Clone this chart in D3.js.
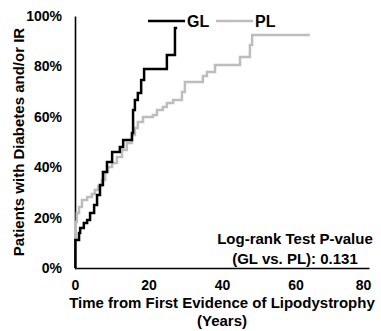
<!DOCTYPE html>
<html>
<head>
<meta charset="utf-8">
<script src="https://cdn.jsdelivr.net/npm/d3@7"></script>
<style>
  html, body { margin: 0; padding: 0; background: #fff; }
  svg text { font-family: "Liberation Sans", Arial, sans-serif; font-weight: bold; fill: #000; }
</style>
</head>
<body>
<svg id="chart" width="381" height="331"></svg>
<script>
// ---- Data ----
const glTimes = [0.1, 1.1, 1.4, 2.4, 3.3, 4.1, 5.2, 6.0, 6.8, 7.6, 8.7, 10.1, 12.2, 13.1, 15.5, 15.8, 16.3, 17.1, 18.0, 18.8, 25.0, 27.2];
const glValues = [11.1, 13.9, 15.9, 17.9, 19.0, 21.8, 25.0, 29.0, 32.9, 38.1, 42.1, 46.0, 48.0, 50.8, 53.6, 62.7, 66.7, 69.4, 74.6, 79.0, 84.5, 95.2];
const glEnd = 27.8;

const plTimes = [0.1, 0.5, 1.1, 1.9, 3.3, 4.6, 5.4, 6.3, 7.3, 8.2, 9.0, 10.1, 11.4, 12.8, 14.1, 15.5, 16.3, 17.1, 18.5, 21.2, 22.3, 23.9, 25.0, 26.7, 29.1, 29.9, 34.8, 35.9, 38.1, 44.9, 47.6, 48.2];
const plValues = [18.3, 21.8, 24.2, 27.0, 28.2, 29.4, 31.0, 32.5, 34.9, 38.1, 40.1, 41.7, 44.0, 46.8, 49.6, 52.8, 55.6, 57.9, 59.9, 60.7, 62.7, 63.9, 65.5, 66.7, 69.8, 73.8, 76.2, 77.8, 80.6, 83.7, 88.5, 92.5];
const plEnd = 63.9;

const xTicks = [0, 20, 40, 60, 80];
const yTicks = [0, 20, 40, 60, 80, 100];
const seriesNames = ["GL", "PL"];
const seriesColors = ["#000000", "#bdbdbd"];

// ---- Scales ----
const svg = d3.select("#chart");
const x = d3.scaleLinear().domain([0, 80]).range([75, 369]);
const y = d3.scaleLinear().domain([0, 100]).range([268, 16]);

function steps(times, values, end) {
  const pts = [[0, 0]];
  times.forEach((t, i) => pts.push([t, values[i]]));
  pts.push([end, values[values.length - 1]]);
  return pts;
}
const line = d3.line().x(d => x(d[0])).y(d => y(d[1])).curve(d3.curveStepAfter);

// ---- Axes ----
const yAxis = svg.append("g").attr("transform", "translate(75,0)")
  .call(d3.axisLeft(y).tickValues(yTicks).tickSize(0).tickPadding(13).tickFormat(d => d + "%"));
yAxis.select(".domain").attr("stroke", "#000").attr("stroke-width", 1.6);
yAxis.selectAll("text").style("font-size", "14px").style("font-family", "Liberation Sans, Arial, sans-serif").style("font-weight", "bold").attr("fill", "#000");

const xAxis = svg.append("g").attr("transform", "translate(0,268)")
  .call(d3.axisBottom(x).tickValues(xTicks).tickSize(0).tickPadding(12).tickFormat(d3.format("d")));
xAxis.select(".domain").attr("stroke", "#000").attr("stroke-width", 1.6);
xAxis.selectAll("text").style("font-size", "14px").style("font-family", "Liberation Sans, Arial, sans-serif").style("font-weight", "bold").attr("fill", "#000")
  .attr("dx", d => d === 80 ? -6 : 0);

// ---- Series ----
svg.append("path").datum(steps(plTimes, plValues, plEnd))
  .attr("fill", "none").attr("stroke", seriesColors[1]).attr("stroke-width", 2.5).attr("d", line);
svg.append("path").datum(steps(glTimes, glValues, glEnd))
  .attr("fill", "none").attr("stroke", seriesColors[0]).attr("stroke-width", 2.5).attr("d", line);

// ---- Legend ----
const legendPos = [[148, 185, 187], [216, 253, 255]];
seriesNames.forEach((name, i) => {
  const [x1, x2, tx] = legendPos[i];
  svg.append("line").attr("x1", x1).attr("x2", x2).attr("y1", 21).attr("y2", 21)
    .attr("stroke", seriesColors[i]).attr("stroke-width", 2.5);
  svg.append("text").attr("x", tx).attr("y", 27).style("font-size", "16px").text(name);
});

// ---- Axis titles ----
svg.append("text").attr("x", 222).attr("y", 308).attr("text-anchor", "middle")
  .style("font-size", "15px").text("Time from First Evidence of Lipodystrophy");
svg.append("text").attr("x", 222).attr("y", 326).attr("text-anchor", "middle")
  .style("font-size", "15px").text("(Years)");
svg.append("text").attr("transform", "translate(24,142) rotate(-90)").attr("text-anchor", "middle")
  .style("font-size", "15px").text("Patients with Diabetes and/or IR");

// ---- Annotation ----
svg.append("text").attr("x", 295).attr("y", 244).attr("text-anchor", "middle")
  .style("font-size", "15px").text("Log-rank Test P-value");
svg.append("text").attr("x", 295).attr("y", 264).attr("text-anchor", "middle")
  .style("font-size", "15px").text("(GL vs. PL): 0.131");
</script>
</body>
</html>
